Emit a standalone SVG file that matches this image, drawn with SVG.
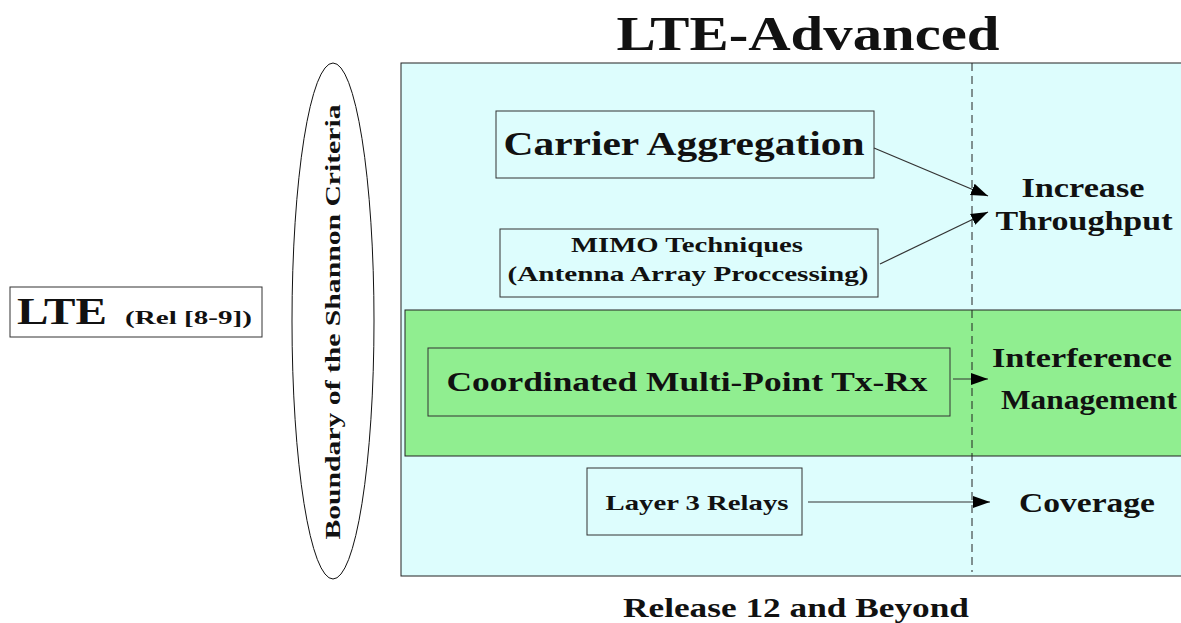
<svg xmlns="http://www.w3.org/2000/svg" width="1181" height="623" viewBox="0 0 1181 623">
  <style>
    .t { font-family: "Liberation Serif", "DejaVu Serif", serif; font-weight: bold; fill: #111; }
    .box { stroke: #333; stroke-width: 1; }
    .conn { stroke: #333; stroke-width: 1.2; fill: none; marker-end: url(#arrow); }
  </style>
  <defs>
    <marker id="arrow" markerUnits="userSpaceOnUse" markerWidth="18" markerHeight="14" viewBox="0 0 18 14" refX="17" refY="7" orient="auto">
      <path d="M0,1 L17,7 L0,13 Z" fill="#000"/>
    </marker>
  </defs>

  <!-- background -->
  <rect x="0" y="0" width="1181" height="623" fill="#fff"/>

  <!-- LTE-Advanced area -->
  <g id="lte-advanced-area">
    <rect x="401" y="63" width="790" height="513" fill="#ddfdfd" stroke="#222" stroke-width="1"/>
    <rect x="405" y="310" width="786" height="146" fill="#90ee90" stroke="#222" stroke-width="1"/>
    <line x1="972" y1="63" x2="972" y2="572" stroke="#222" stroke-width="1" stroke-dasharray="8,5"/>
  </g>

  <g id="title">
    <text class="t" x="808" y="50" font-size="48" text-anchor="middle" textLength="383" lengthAdjust="spacingAndGlyphs">LTE-Advanced</text>
  </g>

  <g id="lte">
    <rect class="box" x="10" y="287" width="252" height="50" fill="#fff"/>
    <text class="t" x="17" y="324" font-size="38" textLength="90" lengthAdjust="spacingAndGlyphs">LTE</text>
    <text class="t" x="125" y="324" font-size="18" textLength="127" lengthAdjust="spacingAndGlyphs">(Rel [8-9])</text>
  </g>

  <g id="shannon-boundary">
    <ellipse cx="333" cy="321" rx="41" ry="258" fill="#fff" stroke="#111" stroke-width="1"/>
    <text class="t" x="0" y="0" font-size="22" text-anchor="middle" transform="translate(340,322) rotate(-90)" textLength="435" lengthAdjust="spacingAndGlyphs">Boundary of the Shannon Criteria</text>
  </g>

  <g id="carrier-aggregation">
    <rect class="box" x="496" y="111" width="378" height="67" fill="#ddfdfd"/>
    <text class="t" x="684" y="155" font-size="34" text-anchor="middle" textLength="361" lengthAdjust="spacingAndGlyphs">Carrier Aggregation</text>
  </g>

  <g id="mimo">
    <rect class="box" x="500" y="229" width="378" height="68" fill="#ddfdfd"/>
    <text class="t" x="687" y="252" font-size="22" text-anchor="middle" textLength="232" lengthAdjust="spacingAndGlyphs">MIMO Techniques</text>
    <text class="t" x="688" y="281" font-size="22" text-anchor="middle" textLength="361" lengthAdjust="spacingAndGlyphs">(Antenna Array Proccessing)</text>
  </g>

  <g id="comp">
    <rect class="box" x="428" y="348" width="522" height="68" fill="#90ee90"/>
    <text class="t" x="687" y="391" font-size="28" text-anchor="middle" textLength="481" lengthAdjust="spacingAndGlyphs">Coordinated Multi-Point Tx-Rx</text>
  </g>

  <g id="relays">
    <rect class="box" x="587" y="468" width="215" height="67" fill="#ddfdfd"/>
    <text class="t" x="697" y="510" font-size="22" text-anchor="middle" textLength="183" lengthAdjust="spacingAndGlyphs">Layer 3 Relays</text>
  </g>

  <g id="throughput">
    <text class="t" x="1083" y="197" font-size="27" text-anchor="middle" textLength="123" lengthAdjust="spacingAndGlyphs">Increase</text>
    <text class="t" x="1084" y="230" font-size="27" text-anchor="middle" textLength="177" lengthAdjust="spacingAndGlyphs">Throughput</text>
  </g>

  <g id="interference">
    <text class="t" x="1082" y="367" font-size="27" text-anchor="middle" textLength="180" lengthAdjust="spacingAndGlyphs">Interference</text>
    <text class="t" x="1089" y="409" font-size="27" text-anchor="middle" textLength="176" lengthAdjust="spacingAndGlyphs">Management</text>
  </g>

  <g id="coverage">
    <text class="t" x="1087" y="512" font-size="27" text-anchor="middle" textLength="136" lengthAdjust="spacingAndGlyphs">Coverage</text>
  </g>

  <g id="release-label">
    <text class="t" x="796" y="617" font-size="27" text-anchor="middle" textLength="346" lengthAdjust="spacingAndGlyphs">Release 12 and Beyond</text>
  </g>

  <g id="connectors">
    <line class="conn" x1="874" y1="148" x2="988" y2="196"/>
    <line class="conn" x1="880" y1="264" x2="988" y2="212"/>
    <line class="conn" x1="953" y1="379" x2="988" y2="379"/>
    <line class="conn" x1="808" y1="502" x2="990" y2="502"/>
  </g>
</svg>
